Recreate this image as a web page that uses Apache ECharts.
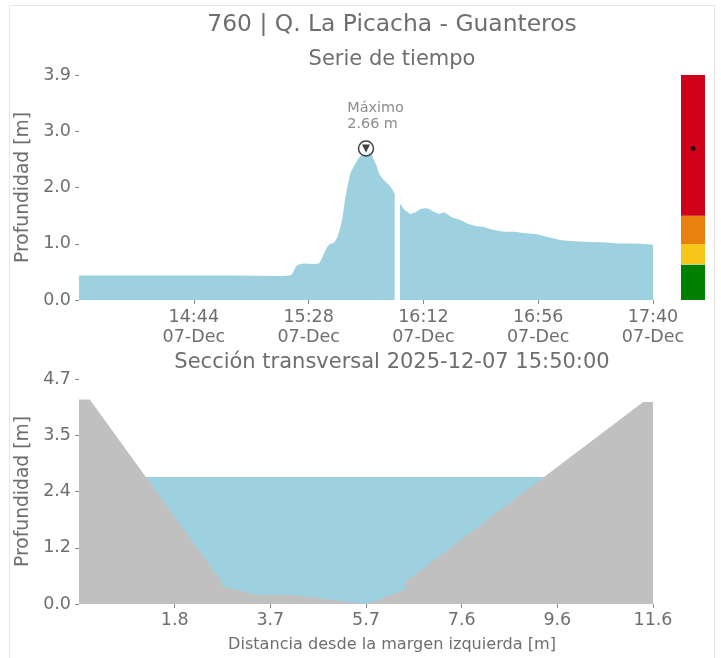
<!DOCTYPE html>
<html>
<head>
<meta charset="utf-8">
<script src="https://cdn.jsdelivr.net/npm/echarts@6/dist/echarts.min.js"></script>
<style>
  html, body { margin: 0; padding: 0; background: #ffffff; }
  #chart { width: 721px; height: 658px; }
</style>
</head>
<body>
<div id="chart"></div>
<script>
// ---------------- Data ----------------
const stationTitle = '760 | Q. La Picacha - Guanteros';
const seriesTitle = 'Serie de tiempo';
const sectionTitle = 'Sección transversal 2025-12-07 15:50:00';
const seriesDate = [2025, 12, 7];
const dateLabel = '07-Dec';

// Time series (HH:MM) and depth [m]; null = missing reading
const seriesTimes = [
  '14:00','14:20','14:40','15:00','15:18','15:21','15:22','15:23','15:24','15:26',
  '15:30','15:32','15:33','15:34','15:35','15:36','15:37','15:38','15:39','15:40',
  '15:41','15:42','15:43','15:44','15:45','15:46','15:47','15:48','15:49','15:50',
  '15:51','15:52','15:53','15:54','15:55','15:56','15:57','15:58','15:59','16:00',
  '16:01','16:02','16:03','16:04','16:05','16:07','16:09','16:11','16:13','16:14',
  '16:16','16:18','16:20','16:23','16:26','16:29','16:32','16:35','16:39','16:43',
  '16:47','16:51','16:55','17:00','17:05','17:10','17:16','17:22','17:27','17:34',
  '17:40'
];
const seriesDepth = [
  0.43, 0.43, 0.43, 0.43, 0.42, 0.43, 0.48, 0.58, 0.62, 0.64,
  0.63, 0.64, 0.72, 0.83, 0.92, 0.98, 0.99, 1.02, 1.10, 1.24,
  1.45, 1.78, 2.02, 2.22, 2.32, 2.40, 2.48, 2.53, 2.58, 2.66,
  2.60, 2.58, 2.46, 2.36, 2.22, 2.15, 2.10, 2.05, 2.01, 1.95,
  1.86, null, 1.69, 1.63, 1.57, 1.51, 1.54, 1.60, 1.61, 1.60,
  1.55, 1.51, 1.54, 1.45, 1.41, 1.34, 1.30, 1.28, 1.23, 1.20,
  1.20, 1.17, 1.16, 1.10, 1.05, 1.03, 1.02, 1.01, 0.99, 0.99,
  0.97
];
const timeStart = '14:00';
const timeEnd = '17:40';
const timeTickLabels = ['14:44', '15:28', '16:12', '16:56', '17:40'];
const depthMax = 3.95;
const depthTickLabels = ['0.0', '1.0', '2.0', '3.0', '3.9'];

// Alert level bands [m]
const alertBands = [[0, 0.62], [0.63, 0.98], [0.98, 1.48], [1.48, 3.95]];
const alertColors = ['#008000', '#f6c619', '#e8820c', '#d0021b'];

// Cross section: distance [m] and bed elevation [m]
const sectionX = [-0.13, 0.09, 2.78, 2.80, 3.50, 4.25, 5.07, 5.75, 6.53, 6.55, 11.40, 11.60];
const sectionZ = [4.28, 4.28, 0.47, 0.37, 0.19, 0.19, 0.08, 0.00, 0.30, 0.47, 4.23, 4.23];
const waterLevel = 2.66;
const sectionXMin = -0.13, sectionXMax = 11.60;
const sectionXTickLabels = ['1.8', '3.7', '5.7', '7.6', '9.6', '11.6'];
const sectionYMax = 4.71;
const sectionYTickLabels = ['0.0', '1.2', '2.4', '3.5', '4.7'];

// ---------------- Helpers ----------------
const toTs = (hhmm) => {
  const [h, m] = hhmm.split(':').map(Number);
  return Date.UTC(seriesDate[0], seriesDate[1] - 1, seriesDate[2], h, m);
};
const pad = (n) => String(n).padStart(2, '0');
const evenTicks = (lo, hi, n) => Array.from({length: n}, (_, i) => lo + (hi - lo) * i / (n - 1));

const seriesData = seriesTimes.map((t, i) => [toTs(t), seriesDepth[i]]);
let peakIdx = 0;
seriesDepth.forEach((v, i) => { if (v !== null && v > seriesDepth[peakIdx]) peakIdx = i; });
const peakPoint = [toTs(seriesTimes[peakIdx]), seriesDepth[peakIdx]];

const depthTicks = evenTicks(0, depthMax, depthTickLabels.length);
const secYTicks = evenTicks(0, sectionYMax, sectionYTickLabels.length);
const secXTicks = evenTicks(sectionXMin, sectionXMax, sectionXTickLabels.length + 1).slice(1);
const timeTicks = timeTickLabels.map(toTs);

const labelFor = (ticks, labels) => (v) => {
  let best = 0;
  ticks.forEach((t, i) => { if (Math.abs(t - v) < Math.abs(ticks[best] - v)) best = i; });
  return labels[best];
};

const TXT = '#6e6e6e';
const FONT = 'DejaVu Sans';
const tickStyle = { show: true, length: 4, lineStyle: { color: '#8a8a8a', width: 1 } };
const hiddenLine = { show: false, onZero: false };

const chart = echarts.init(document.getElementById('chart'), null, { renderer: 'canvas' });

const option = {
  animation: false,
  backgroundColor: '#ffffff',
  textStyle: { fontFamily: FONT, color: TXT },
  graphic: [
    { type: 'rect', shape: { x: 9.5, y: 5.5, width: 705, height: 670 }, style: { fill: 'none', stroke: '#e6e6e6', lineWidth: 1 }, silent: true },
    { type: 'text', x: 392, y: 25, style: { text: stationTitle, font: '23.4px "DejaVu Sans"', fill: TXT, textAlign: 'center', textVerticalAlign: 'middle' } },
    { type: 'text', x: 392, y: 60, style: { text: seriesTitle, font: '21px "DejaVu Sans"', fill: TXT, textAlign: 'center', textVerticalAlign: 'middle' } },
    { type: 'text', x: 392, y: 363, style: { text: sectionTitle, font: '21px "DejaVu Sans"', fill: TXT, textAlign: 'center', textVerticalAlign: 'middle' } }
  ],
  grid: [
    { left: 79, top: 75, width: 574, height: 225 },
    { left: 681, top: 75, width: 24, height: 225 },
    { left: 79, top: 379, width: 574, height: 225 }
  ],
  xAxis: [
    {
      type: 'value', gridIndex: 0, min: toTs(timeStart), max: toTs(timeEnd),
      axisLine: hiddenLine, splitLine: { show: false },
      axisTick: Object.assign({ customValues: timeTicks }, tickStyle),
      axisLabel: {
        customValues: timeTicks, margin: 7, color: TXT, fontSize: 17.5, fontFamily: FONT, lineHeight: 20,
        formatter: (v) => { const d = new Date(v); return pad(d.getUTCHours()) + ':' + pad(d.getUTCMinutes()) + '\n' + dateLabel; }
      }
    },
    { type: 'category', gridIndex: 1, data: ['nivel'], show: false },
    {
      type: 'value', gridIndex: 2, min: sectionXMin, max: sectionXMax,
      axisLine: hiddenLine, splitLine: { show: false },
      axisTick: Object.assign({ customValues: secXTicks }, tickStyle),
      axisLabel: { customValues: secXTicks, margin: 7, color: TXT, fontSize: 17.5, fontFamily: FONT, formatter: labelFor(secXTicks, sectionXTickLabels) },
      name: 'Distancia desde la margen izquierda [m]', nameLocation: 'middle', nameGap: 33,
      nameTextStyle: { color: TXT, fontSize: 16.1, fontFamily: FONT, padding: [0, 0, 0, 52] }
    }
  ],
  yAxis: [
    {
      type: 'value', gridIndex: 0, min: 0, max: depthMax,
      axisLine: hiddenLine, splitLine: { show: false },
      axisTick: Object.assign({ customValues: depthTicks }, tickStyle),
      axisLabel: { customValues: depthTicks, margin: 8, color: TXT, fontSize: 17.5, fontFamily: FONT, formatter: labelFor(depthTicks, depthTickLabels) },
      name: 'Profundidad [m]', nameLocation: 'middle', nameGap: 42, nameRotate: 90,
      nameTextStyle: { color: TXT, fontSize: 18.7, fontFamily: FONT }
    },
    { type: 'value', gridIndex: 1, min: 0, max: depthMax, show: false },
    {
      type: 'value', gridIndex: 2, min: 0, max: sectionYMax,
      axisLine: hiddenLine, splitLine: { show: false },
      axisTick: Object.assign({ customValues: secYTicks }, tickStyle),
      axisLabel: { customValues: secYTicks, margin: 8, color: TXT, fontSize: 17.5, fontFamily: FONT, formatter: labelFor(secYTicks, sectionYTickLabels) },
      name: 'Profundidad [m]', nameLocation: 'middle', nameGap: 42, nameRotate: 90,
      nameTextStyle: { color: TXT, fontSize: 18.7, fontFamily: FONT }
    }
  ],
  series: [
    {
      type: 'line', xAxisIndex: 0, yAxisIndex: 0, data: seriesData,
      showSymbol: false, connectNulls: false, silent: true,
      lineStyle: { width: 0 }, areaStyle: { color: '#9ed1e0', opacity: 1 }, z: 2
    },
    {
      type: 'scatter', xAxisIndex: 0, yAxisIndex: 0, data: [peakPoint],
      symbol: 'circle', symbolSize: 15, silent: true, z: 5,
      itemStyle: { color: '#ffffff', borderColor: '#111111', borderWidth: 1.5 },
      label: {
        show: true, position: [-10.5, -40], align: 'left', verticalAlign: 'top',
        fontSize: 14.4, lineHeight: 16, color: TXT, fontFamily: FONT,
        formatter: () => 'Máximo\n' + peakPoint[1].toFixed(2) + ' m'
      }
    },
    {
      type: 'scatter', xAxisIndex: 0, yAxisIndex: 0, data: [peakPoint],
      symbol: 'triangle', symbolRotate: 180, symbolSize: [8, 8], silent: true, z: 6,
      itemStyle: { color: '#111111' }
    },
    ...alertBands.map((b, i) => ({
      type: 'custom', xAxisIndex: 1, yAxisIndex: 1, silent: true, z: 2,
      data: [[0, b[0], b[1]]],
      renderItem: (params, api) => {
        const lo = api.coord([0, api.value(1)]);
        const hi = api.coord([0, api.value(2)]);
        const w = api.size([1, 0])[0];
        return { type: 'rect', shape: { x: lo[0] - w / 2, y: hi[1], width: w, height: lo[1] - hi[1] }, style: { fill: alertColors[i] } };
      }
    })),
    {
      type: 'scatter', xAxisIndex: 1, yAxisIndex: 1, data: [[0, peakPoint[1]]],
      symbol: 'circle', symbolSize: 5, silent: true, z: 5, itemStyle: { color: '#000000' }
    },
    {
      type: 'line', xAxisIndex: 2, yAxisIndex: 2,
      data: [[sectionXMin, waterLevel], [sectionXMax, waterLevel]],
      showSymbol: false, silent: true, lineStyle: { width: 0 },
      areaStyle: { color: '#9ed1e0', opacity: 1 }, z: 2
    },
    {
      type: 'line', xAxisIndex: 2, yAxisIndex: 2,
      data: sectionX.map((x, i) => [x, sectionZ[i]]),
      showSymbol: false, silent: true, lineStyle: { width: 0 },
      areaStyle: { color: '#c0c0c0', opacity: 1 }, z: 3
    }
  ]
};
chart.setOption(option);
</script>
</body>
</html>
